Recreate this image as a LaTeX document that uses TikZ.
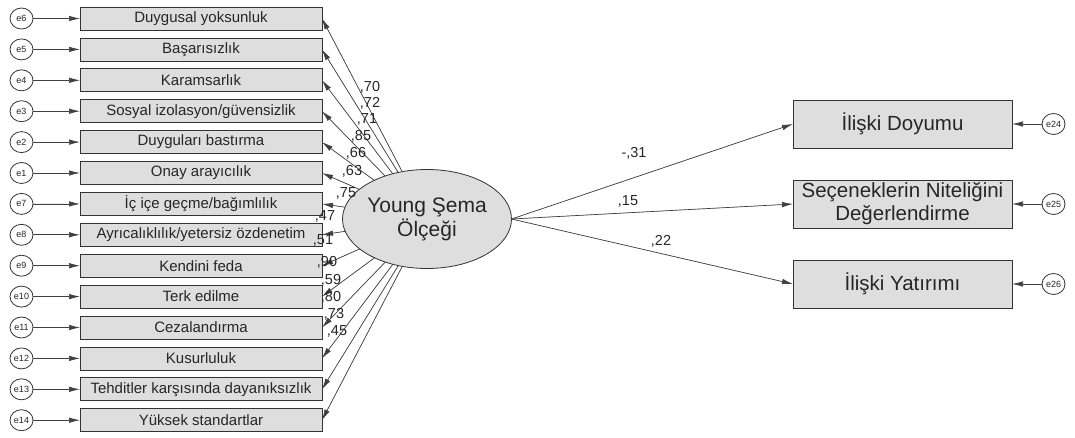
\documentclass[tikz,border=0pt]{standalone}
\usepackage{fontspec}
\setmainfont{Liberation Sans}
\usetikzlibrary{shapes.geometric, arrows.meta, positioning}

\begin{document}
\begin{tikzpicture}[
        x=1pt, y=-1pt,
        item/.style={rectangle, draw=black!80, fill=black!13, text=black!85, line width=0.8pt, outer sep=0pt, minimum width=242pt, minimum height=23pt, inner sep=0pt, font=\fontsize{15}{16}\selectfont},
        outcome/.style={rectangle, draw=black!80, fill=black!13, text=black!85, line width=0.8pt, outer sep=0pt, minimum width=219pt, minimum height=48pt, inner sep=0pt, align=center, font=\fontsize{20.5}{23}\selectfont},
        err/.style={ellipse, draw=black!80, fill=white, text=black!85, line width=0.8pt, outer sep=0pt, minimum width=23pt, minimum height=21pt, inner sep=0pt, font=\fontsize{9}{10}\selectfont},
        latent/.style={ellipse, draw=black!80, fill=black!13, text=black!85, line width=0.8pt, outer sep=0pt, minimum width=161pt, minimum height=99pt, inner sep=0pt, align=center, font=\fontsize{21}{24}\selectfont},
        coef/.style={inner sep=0pt, text=black!85, font=\fontsize{14.5}{15}\selectfont},
        line/.style={-{Latex[length=11pt, width=5.5pt]}, draw=black!75, fill=black!60, line width=0.7pt}
    ]
        \useasboundingbox (0,0) rectangle (1075,437);

        % Indicators
        \node[item] (i1) at (201,18.5) {Duygusal yoksunluk};
        \node[item, below=7.9pt of i1] (i2) {Başarısızlık};
        \node[item, below=7.9pt of i2] (i3) {Karamsarlık};
        \node[item, below=7.9pt of i3] (i4) {Sosyal izolasyon/güvensizlik};
        \node[item, below=7.9pt of i4] (i5) {Duyguları bastırma};
        \node[item, below=7.9pt of i5] (i6) {Onay arayıcılık};
        \node[item, below=7.9pt of i6] (i7) {İç içe geçme/bağımlılık};
        \node[item, below=7.9pt of i7] (i8) {Ayrıcalıklılık/yetersiz özdenetim};
        \node[item, below=7.9pt of i8] (i9) {Kendini feda};
        \node[item, below=7.9pt of i9] (i10) {Terk edilme};
        \node[item, below=7.9pt of i10] (i11) {Cezalandırma};
        \node[item, below=7.9pt of i11] (i12) {Kusurluluk};
        \node[item, below=7.9pt of i12] (i13) {Tehditler karşısında dayanıksızlık};
        \node[item, below=7.9pt of i13] (i14) {Yüksek standartlar};

        % Error terms
        \node[err, left=47pt of i1] (e6) {e6};
        \node[err, left=47pt of i2] (e5) {e5};
        \node[err, left=47pt of i3] (e4) {e4};
        \node[err, left=47pt of i4] (e3) {e3};
        \node[err, left=47pt of i5] (e2) {e2};
        \node[err, left=47pt of i6] (e1) {e1};
        \node[err, left=47pt of i7] (e7) {e7};
        \node[err, left=47pt of i8] (e8) {e8};
        \node[err, left=47pt of i9] (e9) {e9};
        \node[err, left=47pt of i10] (e10) {e10};
        \node[err, left=47pt of i11] (e11) {e11};
        \node[err, left=47pt of i12] (e12) {e12};
        \node[err, left=47pt of i13] (e13) {e13};
        \node[err, left=47pt of i14] (e14) {e14};

        \draw[line] (e6) -- (i1);
        \draw[line] (e5) -- (i2);
        \draw[line] (e4) -- (i3);
        \draw[line] (e3) -- (i4);
        \draw[line] (e2) -- (i5);
        \draw[line] (e1) -- (i6);
        \draw[line] (e7) -- (i7);
        \draw[line] (e8) -- (i8);
        \draw[line] (e9) -- (i9);
        \draw[line] (e10) -- (i10);
        \draw[line] (e11) -- (i11);
        \draw[line] (e12) -- (i12);
        \draw[line] (e13) -- (i13);
        \draw[line] (e14) -- (i14);

        % Latent variable
        \node[latent] (lv) at (427,219) {Young Şema\\Ölçeği};

        \draw[line] (lv) -- (i1.east);
        \draw[line] (lv) -- (i2.east);
        \draw[line] (lv) -- (i3.east);
        \draw[line] (lv) -- (i4.east);
        \draw[line] (lv) -- (i5.east);
        \draw[line] (lv) -- (i6.east);
        \draw[line] (lv) -- (i7.east);
        \draw[line] (lv) -- (i8.east);
        \draw[line] (lv) -- (i9.east);
        \draw[line] (lv) -- (i10.east);
        \draw[line] (lv) -- (i11.east);
        \draw[line] (lv) -- (i12.east);
        \draw[line] (lv) -- (i13.east);
        \draw[line] (lv) -- (i14.east);

        \node[coef] (w1) at (370,87) {,70};
        \node[coef] (w2) at (370,103) {,72};
        \node[coef] (w3) at (367,119) {,71};
        \node[coef] (w4) at (361,136) {,85};
        \node[coef] (w5) at (356,153) {,66};
        \node[coef] (w6) at (352,171) {,63};
        \node[coef] (w7) at (346,193) {,75};
        \node[coef] (w8) at (325,216) {,47};
        \node[coef] (w9) at (323,240) {,51};
        \node[coef] (w10) at (327,262) {,90};
        \node[coef] (w11) at (331,280) {,59};
        \node[coef] (w12) at (331,297) {,80};
        \node[coef] (w13) at (334,314) {,73};
        \node[coef] (w14) at (337,331) {,45};

        % Outcomes
        \node[outcome] (r1) at (902.5,124) {İlişki Doyumu};
        \node[outcome, below=32pt of r1] (r2) {Seçeneklerin Niteliğini\\Değerlendirme};
        \node[outcome, below=32pt of r2] (r3) {İlişki Yatırımı};

        \node[err, right=30pt of r1] (e24) {e24};
        \node[err, right=30pt of r2] (e25) {e25};
        \node[err, right=30pt of r3] (e26) {e26};

        \draw[line] (e24) -- (r1);
        \draw[line] (e25) -- (r2);
        \draw[line] (e26) -- (r3);

        \draw[line] (lv.east) -- (r1.west);
        \draw[line] (lv.east) -- (r2.west);
        \draw[line] (lv.east) -- (r3.west);

        \node[coef] (w15) at (634,153) {-,31};
        \node[coef] (w16) at (628,201) {,15};
        \node[coef] (w17) at (661,241) {,22};

    \end{tikzpicture}
\end{document}
